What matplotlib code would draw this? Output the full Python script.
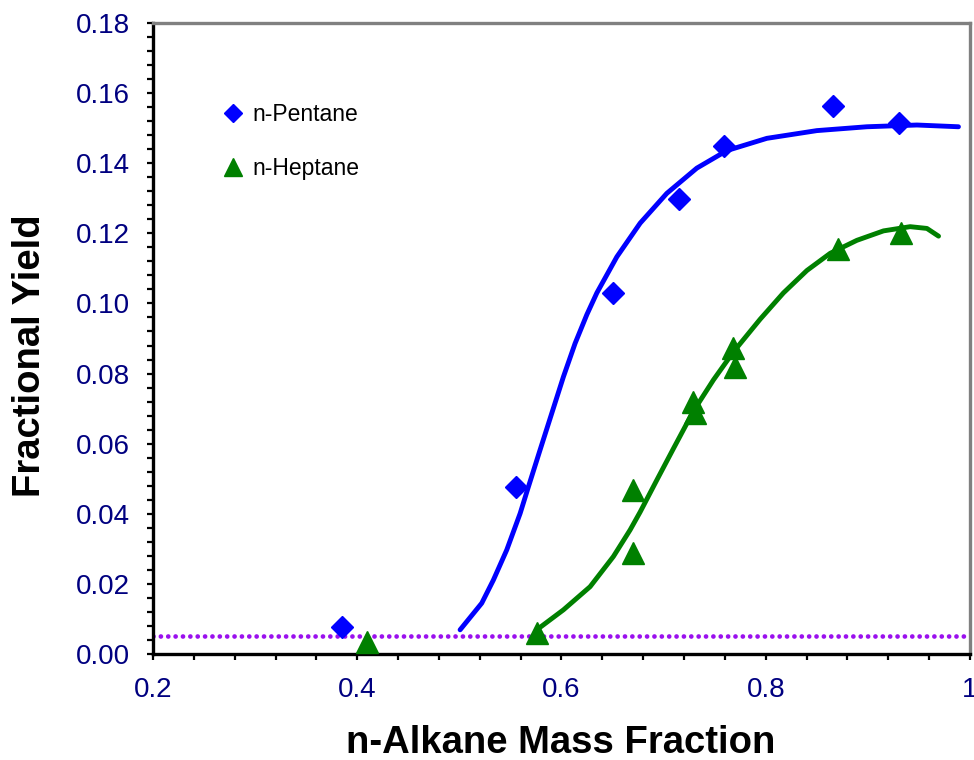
import matplotlib
matplotlib.use("Agg")
import matplotlib.pyplot as plt
from matplotlib.lines import Line2D
from matplotlib.ticker import MultipleLocator, FixedLocator, FixedFormatter

plt.rcParams['font.family'] = ['Liberation Sans', 'DejaVu Sans']

# ---- data ----
pentane_x = [0.385, 0.5555, 0.6505, 0.715, 0.759, 0.866, 0.930]
pentane_y = [0.0077, 0.0476, 0.1030, 0.1297, 0.1449, 0.1563, 0.1515]

heptane_x = [0.410, 0.576, 0.670, 0.670, 0.729, 0.731, 0.768, 0.770, 0.871, 0.932]
heptane_y = [0.0034, 0.0060, 0.0288, 0.0468, 0.0719, 0.0687, 0.0873, 0.0819, 0.1155, 0.1201]

pentane_fit_x = [0.5007, 0.5219, 0.5333, 0.5464, 0.5595, 0.5676, 0.5790, 0.5905,
                 0.6019, 0.6133, 0.6248, 0.6346, 0.6542, 0.6770, 0.7031, 0.7325,
                 0.7619, 0.8011, 0.8500, 0.8990, 0.9480, 0.9887]
pentane_fit_y = [0.0069, 0.0145, 0.0211, 0.0297, 0.0401, 0.0477, 0.0582, 0.0687,
                 0.0791, 0.0886, 0.0968, 0.1030, 0.1133, 0.1229, 0.1314, 0.1386,
                 0.1436, 0.1471, 0.1493, 0.1504, 0.1509, 0.1504]

heptane_fit_x = [0.5758, 0.6019, 0.6280, 0.6508, 0.6672, 0.6770, 0.6933, 0.7096,
                 0.7292, 0.7488, 0.7684, 0.7945, 0.8173, 0.8403, 0.8631, 0.8892,
                 0.9153, 0.9414, 0.9578, 0.9692]
heptane_fit_y = [0.0069, 0.0126, 0.0192, 0.0278, 0.0354, 0.0405, 0.0496, 0.0586,
                 0.0693, 0.0782, 0.0862, 0.0955, 0.1030, 0.1094, 0.1143, 0.1180,
                 0.1207, 0.1219, 0.1214, 0.1192]

detection_limit = 0.005

x_ticks = [0.2, 0.4, 0.6, 0.8, 1.0]
x_tick_labels = ['0.2', '0.4', '0.6', '0.8', '1']
y_ticks = [0.00, 0.02, 0.04, 0.06, 0.08, 0.10, 0.12, 0.14, 0.16, 0.18]
y_tick_labels = ['0.00', '0.02', '0.04', '0.06', '0.08', '0.10', '0.12', '0.14', '0.16', '0.18']

labels = ['n-Pentane', 'n-Heptane']
x_title = 'n-Alkane Mass Fraction'
y_title = 'Fractional Yield'

blue = '#0000FF'
green = '#008000'
purple = '#9A10EE'
navy = '#000080'

fig = plt.figure(figsize=(9.74, 7.6), dpi=100)
ax = fig.add_axes([153/974, 1-654/760, (970-153)/974, (654-23)/760])

ax.axhline(detection_limit, color=purple, lw=3.4, linestyle=(0, (0.01, 1.55)),
           dash_capstyle='round', zorder=1)

ax.plot(pentane_fit_x, pentane_fit_y, color=blue, lw=3.5, solid_capstyle='round',
        solid_joinstyle='round', zorder=2)
ax.plot(heptane_fit_x, heptane_fit_y, color=green, lw=3.5, solid_capstyle='round',
        solid_joinstyle='round', zorder=2)

ax.plot(pentane_x, pentane_y, linestyle='none', marker='D', ms=11.7,
        color=blue, mec=blue, zorder=3)
ax.plot(heptane_x, heptane_y, linestyle='none', marker='^', ms=16.5,
        color=green, mec=green, zorder=3)

ax.set_xlim(0.2, 1.0)
ax.set_ylim(0.0, 0.18)

ax.xaxis.set_major_locator(FixedLocator(x_ticks))
ax.xaxis.set_major_formatter(FixedFormatter(x_tick_labels))
ax.xaxis.set_minor_locator(MultipleLocator(0.04))
ax.yaxis.set_major_locator(FixedLocator(y_ticks))
ax.yaxis.set_major_formatter(FixedFormatter(y_tick_labels))
ax.yaxis.set_minor_locator(MultipleLocator(0.004))

ax.tick_params(axis='both', which='both', direction='out', length=4.5, width=1.6,
               color='black', top=False, right=False)
ax.tick_params(axis='both', which='major', labelsize=20, labelcolor=navy)
ax.tick_params(axis='y', which='major', pad=12)
ax.tick_params(axis='x', which='major', pad=12)

for s in ['left', 'bottom']:
    ax.spines[s].set_color('black')
    ax.spines[s].set_linewidth(2.4)
for s in ['top', 'right']:
    ax.spines[s].set_color('#808080')
    ax.spines[s].set_linewidth(2.4)

fig.text(561/974, 1-743/760, x_title, ha='center', va='center',
         fontsize=27.5, fontweight='bold', color='black')
fig.text(30/974, 1-356/760, y_title, ha='center', va='center', rotation=90,
         fontsize=27.5, fontweight='bold', color='black')

handles = [Line2D([], [], linestyle='none', marker='D', ms=9.2, color=blue),
           Line2D([], [], linestyle='none', marker='^', ms=13, color=green)]
leg = ax.legend(handles, labels, loc='upper left',
                bbox_to_anchor=(222/974, 1-103/760), bbox_transform=fig.transFigure,
                frameon=False, fontsize=16.5, handlelength=1.0, handletextpad=0.35,
                labelspacing=1.35, borderpad=0, borderaxespad=0)

fig.savefig('out.png', dpi=100)
